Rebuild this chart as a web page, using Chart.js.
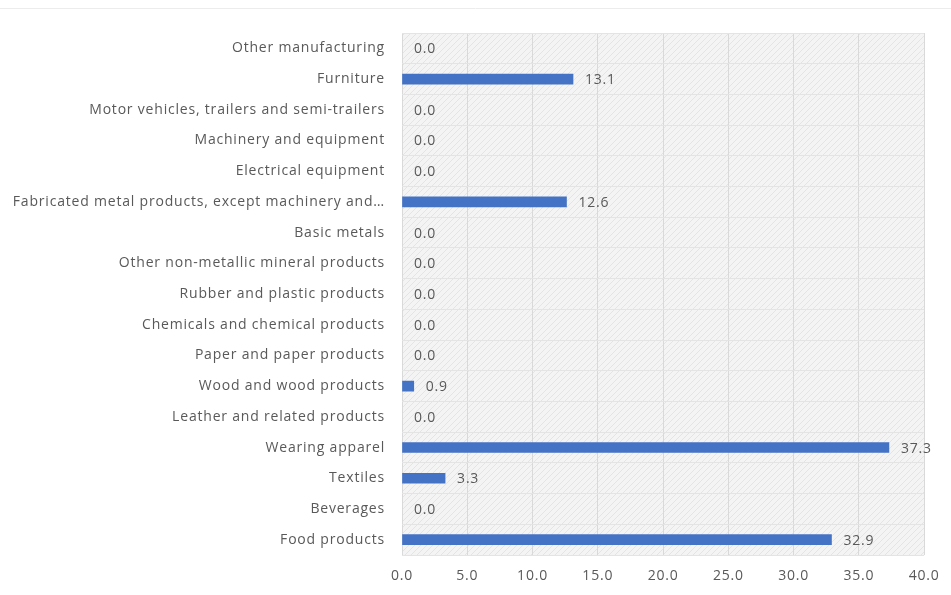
<!DOCTYPE html>
<html lang="en">
<head>
  <meta charset="UTF-8">
  <title>Manufacturing share</title>
  <script src="https://cdn.jsdelivr.net/npm/chart.js"></script>
  <style>
    body {
      margin: 0;
      background: #fff;
    }
    #wrap {
      width: 951px;
      height: 595px;
    }
  </style>
</head>
<body>
  <div id="wrap"><canvas id="chart" width="951" height="595"></canvas></div>
  <script>
    const categories = [
      'Other manufacturing',
      'Furniture',
      'Motor vehicles, trailers and semi-trailers',
      'Machinery and equipment',
      'Electrical equipment',
      'Fabricated metal products, except machinery and…',
      'Basic metals',
      'Other non-metallic mineral products',
      'Rubber and plastic products',
      'Chemicals and chemical products',
      'Paper and paper products',
      'Wood and wood products',
      'Leather and related products',
      'Wearing apparel',
      'Textiles',
      'Beverages',
      'Food products'
    ];
    const values = [0.0, 13.1, 0.0, 0.0, 0.0, 12.6, 0.0, 0.0, 0.0, 0.0, 0.0, 0.9, 0.0, 37.3, 3.3, 0.0, 32.9];
    const xMin = 0;
    const xMax = 40;
    const xStep = 5;

    const textColor = '#595959';
    const barColor = '#4472c4';
    const fontFamily = '"Open Sans", sans-serif';

    // hatched plot background + wider text spacing like the original
    const hatchPlugin = {
      id: 'hatch',
      beforeDraw(chart) {
        const { ctx, chartArea: a } = chart;
        ctx.letterSpacing = '0.8px';
        const p = document.createElement('canvas');
        p.width = 6; p.height = 6;
        const pc = p.getContext('2d');
        pc.fillStyle = '#f4f4f4';
        pc.fillRect(0, 0, 6, 6);
        pc.strokeStyle = '#e4e4e4';
        pc.lineWidth = 1;
        pc.beginPath();
        pc.moveTo(0, 6); pc.lineTo(6, 0);
        pc.stroke();
        ctx.save();
        ctx.fillStyle = ctx.createPattern(p, 'repeat');
        ctx.fillRect(a.left, a.top, a.right - a.left, a.bottom - a.top);
        ctx.restore();
        // faint top rule
        ctx.save();
        ctx.strokeStyle = '#ececec';
        ctx.beginPath();
        ctx.moveTo(0, 8.5); ctx.lineTo(chart.width, 8.5);
        ctx.stroke();
        ctx.restore();
      }
    };

    // value labels to the right of bars
    const valueLabels = {
      id: 'valueLabels',
      afterDatasetsDraw(chart) {
        const { ctx } = chart;
        const meta = chart.getDatasetMeta(0);
        ctx.save();
        ctx.font = '14px ' + fontFamily;
        ctx.fillStyle = textColor;
        ctx.textAlign = 'left';
        ctx.textBaseline = 'middle';
        meta.data.forEach((bar, i) => {
          ctx.fillText(values[i].toFixed(1), bar.x + 12, bar.y + 1);
        });
        ctx.restore();
      }
    };

    new Chart(document.getElementById('chart'), {
      type: 'bar',
      data: {
        labels: categories,
        datasets: [{
          data: values,
          backgroundColor: c => (c.raw === 0 ? 'rgba(0,0,0,0)' : barColor),
          borderWidth: 0,
          barThickness: 10
        }]
      },
      options: {
        indexAxis: 'y',
        responsive: false,
        animation: false,
        layout: {
          padding: { top: 33, right: 26, left: 0, bottom: 0 }
        },
        plugins: {
          legend: { display: false },
          tooltip: { enabled: false }
        },
        scales: {
          x: {
            min: xMin,
            max: xMax,
            grid: { color: '#d9d9d9', drawTicks: false },
            border: { display: false },
            ticks: {
              stepSize: xStep,
              padding: 13,
              color: textColor,
              font: { family: fontFamily, size: 14 },
              callback: v => v.toFixed(1)
            },
            afterFit(s) { s.height = 40; }
          },
          y: {
            grid: { color: '#e4e4e4', drawTicks: false },
            border: { display: false },
            ticks: {
              padding: 17,
              color: textColor,
              autoSkip: false,
              font: { family: fontFamily, size: 14 }
            },
            afterFit(s) { s.width = 402; }
          }
        }
      },
      plugins: [hatchPlugin, valueLabels]
    });
  </script>
</body>
</html>
